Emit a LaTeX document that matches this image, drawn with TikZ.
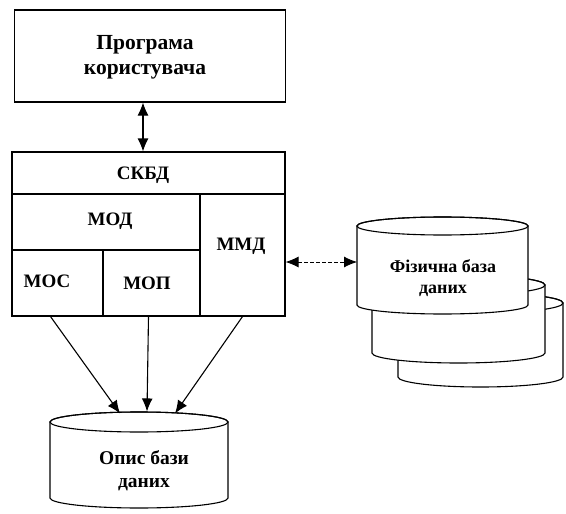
\documentclass[tikz,border=0pt]{standalone}
\usepackage{fontspec}
\setmainfont{Liberation Serif}
\usetikzlibrary{arrows.meta}
\newcommand\mycyl[5]{% cx, rx, top y, bottom y, ry
  \filldraw[fill=white] ({#1-#2},#3) -- ({#1-#2},#4)
    arc[start angle=180,end angle=0,x radius=#2,y radius=#5]
    -- ({#1+#2},#3)
    arc[start angle=0,end angle=-180,x radius=#2,y radius=#5] -- cycle;
  \draw (#1,#3) ellipse[x radius=#2,y radius=#5];
}
\begin{document}
\begin{tikzpicture}[x=1pt,y=-1pt,line width=1.1pt,
  lbl/.style={font=\bfseries\fontsize{19}{23}\selectfont,align=center,inner sep=0pt},
  cell/.style={draw,inner sep=0pt},
  ghost/.style={inner sep=0pt},
  arr/.style={-{Latex[length=13pt,width=11pt]}},
  dblarr/.style={{Latex[length=13pt,width=11pt]}-{Latex[length=13pt,width=11pt]}},
  dasharr/.style={{Latex[length=13pt,width=11pt]}-{Latex[length=13pt,width=11pt]},line width=0.8pt,dash pattern=on 4pt off 2pt}]
\useasboundingbox (0,0) rectangle (566,514);

% top box
\node[cell,minimum width=271pt,minimum height=92pt] (prog) at (150,56) {};
\node[lbl,font=\bfseries\fontsize{21.5}{25}\selectfont] (progt) at (145,57) {Програма\\користувача};

% DBMS block
\node[cell,minimum width=273pt,minimum height=42pt] (skbd) at (148.5,173) {};
\node[cell,minimum width=188pt,minimum height=56pt] (mod) at (106,222) {};
\node[cell,minimum width=85pt,minimum height=122pt] (mmd) at (242.5,255) {};
\node[cell,minimum width=91pt,minimum height=66pt] (mos) at (57.5,283) {};
\node[cell,minimum width=97pt,minimum height=66pt] (mop) at (151.5,283) {};
\node[lbl] (skbdt) at (143,175) {СКБД};
\node[lbl] (modt) at (110,221) {МОД};
\node[lbl] (mmdt) at (241,246) {ММД};
\node[lbl] (most) at (47,281) {МОС};
\node[lbl] (mopt) at (147,283) {МОП};

\coordinate (ax) at (143,0);
\draw[dblarr] (prog.south -| ax) -- (skbd.north -| ax);

% physical database cylinders (back to front)
\mycyl{480.5}{82.5}{303}{377}{10}
\mycyl{458.5}{86.5}{285}{353}{10}
\mycyl{442.5}{85.5}{226}{305}{9}
\node[ghost,minimum width=171pt,minimum height=78pt] (phys) at (442.5,266) {};
\node[lbl,font=\bfseries\fontsize{18}{21}\selectfont] (physt) at (443,278) {Фізична база\\даних};

\coordinate (pw) at (357,262);
\draw[dasharr] (mmd.east |- pw) -- (pw);

% description cylinder
\mycyl{139}{89}{422}{498}{10}
\node[ghost,minimum width=178pt,minimum height=100pt] (opys) at (139,462) {};
\node[lbl,font=\bfseries\fontsize{19.5}{23}\selectfont] (opyst) at (144,471) {Опис бази\\даних};

\draw[arr] ([xshift=-7pt]mos.south) -- ([xshift=-19pt,yshift=-2pt]opys.north);
\draw[arr] ([xshift=-3pt]mop.south) -- ([xshift=8pt]opys.north);
\draw[arr] ([xshift=0pt]mmd.south) -- ([xshift=36pt,yshift=-2pt]opys.north);
\end{tikzpicture}
\end{document}
